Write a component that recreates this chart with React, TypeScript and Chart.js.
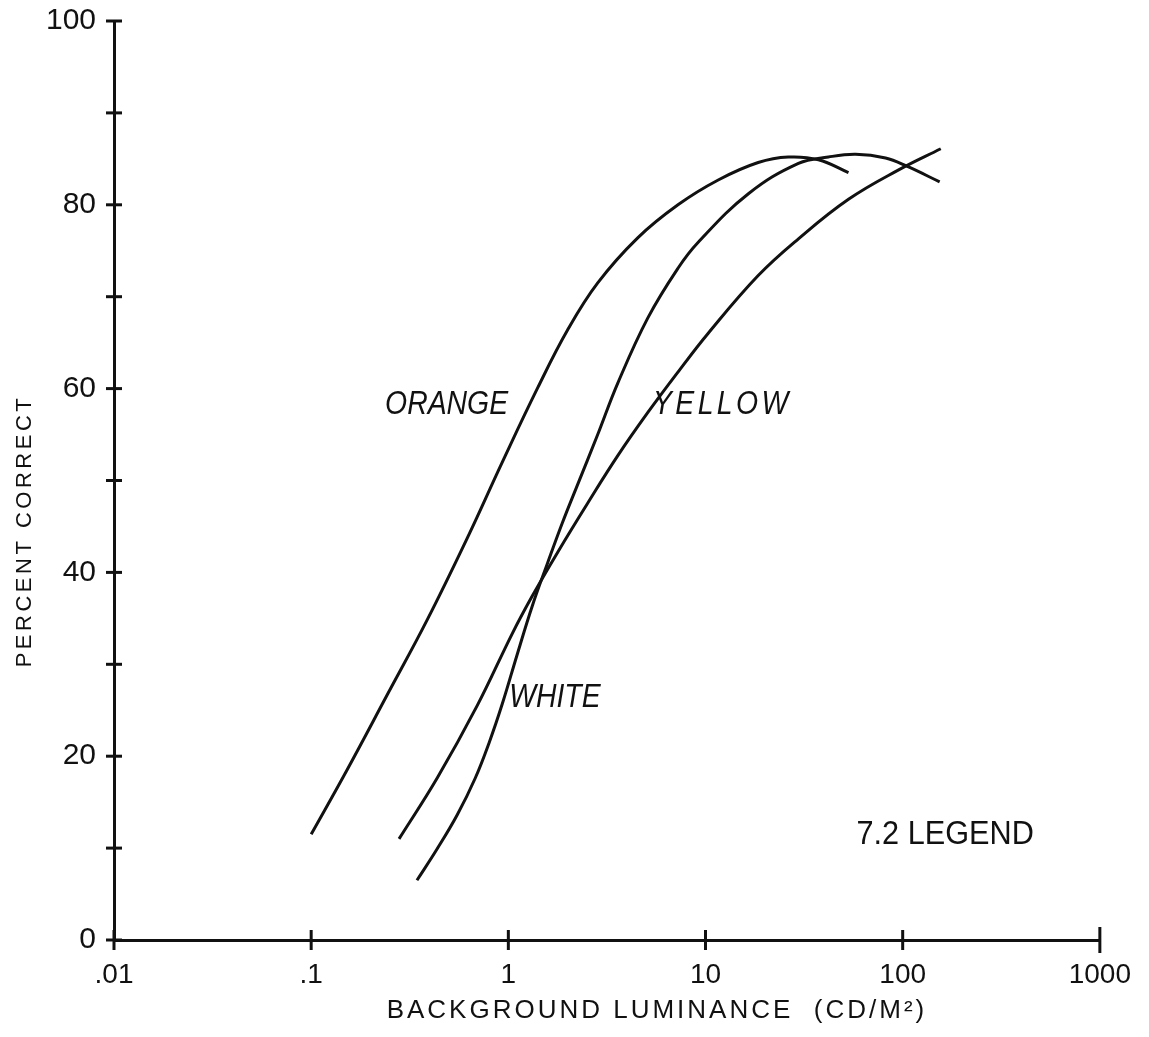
import React, { useEffect, useRef } from "react";
import { Chart, registerables } from "chart.js";

Chart.register(...registerables);

// Axis ticks
const luminanceTicks = [0.01, 0.1, 1, 10, 100, 1000];
const luminanceTickLabels = [".01", ".1", "1", "10", "100", "1000"];
const percentTicks = [0, 10, 20, 30, 40, 50, 60, 70, 80, 90, 100];
const percentTickLabels = ["0", "", "20", "", "40", "", "60", "", "80", "", "100"];

// Orange
const orangeLuminance = [0.1, 0.152, 0.242, 0.387, 0.618, 0.932, 1.41, 2.0, 2.84, 4.53, 7.25, 11.6, 18.5, 26.3, 37.4, 53.1];
const orangePercent = [11.5, 18.5, 26.6, 34.8, 43.7, 52.0, 60.1, 66.4, 71.5, 76.4, 80.0, 82.7, 84.6, 85.2, 84.9, 83.5];

// Yellow
const yellowLuminance = [0.279, 0.435, 0.695, 1.05, 1.32, 1.78, 2.52, 3.59, 5.1, 7.25, 10.3, 18.5, 29.6, 53.1, 95.4, 156];
const yellowPercent = [11.0, 17.6, 25.5, 33.4, 37.4, 42.2, 47.5, 52.7, 57.4, 61.8, 66.0, 72.3, 76.3, 80.6, 83.8, 86.1];

// White
const whiteLuminance = [0.344, 0.435, 0.55, 0.679, 0.8, 0.932, 1.11, 1.32, 1.58, 1.88, 2.24, 2.84, 3.59, 5.1, 7.25, 9.16, 16.5, 29.6, 42.0, 57.7, 81.9, 105, 154];
const whitePercent = [6.5, 9.9, 13.6, 17.6, 21.5, 25.7, 31.1, 36.3, 41.0, 45.4, 49.5, 55.0, 60.6, 67.7, 73.1, 75.9, 81.2, 84.5, 85.2, 85.5, 85.1, 84.2, 82.5];

// Curve names and where they are written (data coordinates)
const curveNames = ["ORANGE", "YELLOW", "WHITE"];
const curveNameLuminance = [0.237, 5.41, 1.01];
const curveNamePercent = [58.2, 58.2, 26.3];

const captionText = "7.2 LEGEND";
const captionLuminance = 58.3;
const captionPercent = 11.4;

const xTitle = "BACKGROUND LUMINANCE  (CD/M\u00B2)";
const yTitle = "PERCENT CORRECT";

const INK = "#111";
const FONT = "'Liberation Sans', Arial, sans-serif";

const toPoints = (xs: number[], ys: number[]) => xs.map((x, i) => ({ x, y: ys[i] }));

// Tick marks that cross the axis line on both sides
const crossTicksPlugin = {
  id: "crossTicks",
  afterDraw(chart: any) {
    const { ctx, chartArea, scales } = chart;
    const xs = scales.x;
    const ys = scales.y;
    ctx.save();
    ctx.strokeStyle = INK;
    ctx.lineWidth = 3;
    ctx.lineCap = "butt";
    ys.ticks.forEach((t: any) => {
      const py = ys.getPixelForValue(t.value);
      ctx.beginPath();
      ctx.moveTo(chartArea.left - 8, py);
      ctx.lineTo(chartArea.left + 8, py);
      ctx.stroke();
    });
    xs.ticks.forEach((t: any, i: number) => {
      const px = xs.getPixelForValue(t.value);
      const half = i === xs.ticks.length - 1 ? 13 : 10;
      ctx.beginPath();
      ctx.moveTo(px, chartArea.bottom - half);
      ctx.lineTo(px, chartArea.bottom + half);
      ctx.stroke();
    });
    ctx.restore();
  },
};

// Curve names, caption and axis titles
const textPlugin = {
  id: "chartText",
  afterDraw(chart: any) {
    const { ctx, chartArea, scales } = chart;
    const xs = scales.x;
    const ys = scales.y;
    ctx.save();
    ctx.fillStyle = INK;
    ctx.textBaseline = "middle";
    ctx.textAlign = "left";

    const drawScaled = (text: string, x: number, y: number, font: string, sx: number, spacing: string) => {
      ctx.save();
      ctx.translate(x, y);
      ctx.scale(sx, 1);
      ctx.font = font;
      (ctx as any).letterSpacing = spacing;
      ctx.fillText(text, 0, 0);
      ctx.restore();
    };

    curveNames.forEach((name, i) => {
      const px = xs.getPixelForValue(curveNameLuminance[i]);
      const py = ys.getPixelForValue(curveNamePercent[i]);
      drawScaled(name, px, py, `italic 33px ${FONT}`, 0.86, name === "YELLOW" ? "4px" : "0px");
    });

    drawScaled(
      captionText,
      xs.getPixelForValue(captionLuminance),
      ys.getPixelForValue(captionPercent),
      `33px ${FONT}`,
      0.93,
      "0px"
    );

    // x axis title
    ctx.font = `26px ${FONT}`;
    (ctx as any).letterSpacing = "3px";
    ctx.textAlign = "center";
    ctx.fillText(xTitle, (chartArea.left + chartArea.right) / 2 + 50, chartArea.bottom + 71);

    // y axis title
    ctx.font = `22px ${FONT}`;
    (ctx as any).letterSpacing = "3.5px";
    ctx.save();
    ctx.translate(25, chartArea.top + (chartArea.bottom - chartArea.top) * 0.555);
    ctx.rotate(-Math.PI / 2);
    ctx.fillText(yTitle, 0, 0);
    ctx.restore();

    ctx.restore();
  },
};

export default function App() {
  const canvasRef = useRef<HTMLCanvasElement | null>(null);

  useEffect(() => {
    if (!canvasRef.current) return;
    const lineStyle = {
      borderColor: INK,
      borderWidth: 3,
      pointRadius: 0,
      fill: false,
      tension: 0.4,
    };
    const chart = new Chart(canvasRef.current, {
      type: "line",
      data: {
        datasets: [
          { label: "ORANGE", data: toPoints(orangeLuminance, orangePercent), ...lineStyle },
          { label: "YELLOW", data: toPoints(yellowLuminance, yellowPercent), ...lineStyle },
          { label: "WHITE", data: toPoints(whiteLuminance, whitePercent), ...lineStyle },
        ],
      },
      options: {
        animation: false,
        responsive: true,
        maintainAspectRatio: false,
        layout: { padding: { top: 21, right: 49, left: 0, bottom: 0 } },
        plugins: {
          legend: { display: false },
          tooltip: { enabled: false },
          title: { display: false },
        },
        scales: {
          x: {
            type: "logarithmic",
            min: 0.01,
            max: 1000,
            afterBuildTicks: (scale: any) => {
              scale.ticks = luminanceTicks.map((v) => ({ value: v }));
            },
            afterFit: (scale: any) => {
              scale.height = 97;
            },
            grid: { display: false, drawTicks: false },
            border: { display: true, color: INK, width: 3 },
            ticks: {
              autoSkip: false,
              maxRotation: 0,
              padding: 18,
              color: INK,
              font: { family: FONT, size: 28 },
              callback: (value: any) => {
                const i = luminanceTicks.indexOf(Number(value));
                return i >= 0 ? luminanceTickLabels[i] : "";
              },
            },
          },
          y: {
            type: "linear",
            min: 0,
            max: 100,
            afterBuildTicks: (scale: any) => {
              scale.ticks = percentTicks.map((v) => ({ value: v }));
            },
            afterFit: (scale: any) => {
              scale.width = 114;
              scale.paddingTop = 0;
              scale.paddingBottom = 0;
            },
            grid: { display: false, drawTicks: false },
            border: { display: true, color: INK, width: 3 },
            ticks: {
              autoSkip: false,
              padding: 18,
              color: INK,
              font: { family: FONT, size: 30 },
              callback: (value: any) => {
                const i = percentTicks.indexOf(Number(value));
                return i >= 0 ? percentTickLabels[i] : "";
              },
            },
          },
        },
      },
      plugins: [crossTicksPlugin, textPlugin],
    });
    return () => chart.destroy();
  }, []);

  return (
    <div style={{ position: "fixed", left: 0, top: 0, width: 1149, height: 1037, background: "#fff" }}>
      <canvas ref={canvasRef} />
    </div>
  );
}
